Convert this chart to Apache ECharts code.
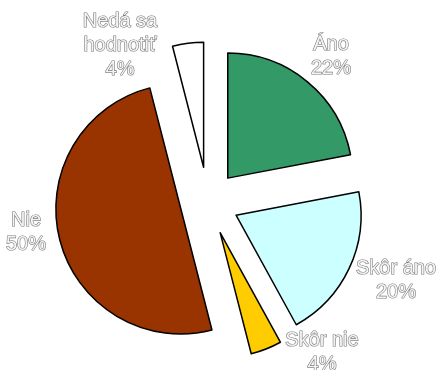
<!DOCTYPE html>
<html>
<head>
<meta charset="utf-8">
<script src="https://cdn.jsdelivr.net/npm/echarts@6/dist/echarts.min.js"></script>
<style>
  html, body { margin: 0; padding: 0; background: #ffffff; }
  #chart { width: 440px; height: 370px; }
</style>
</head>
<body>
<div id="chart"></div>
<script>
// Survey answers, clockwise from 12 o'clock
const categories = ['Áno', 'Skôr áno', 'Skôr nie', 'Nie', 'Nedá sa\nhodnotiť'];
const values = [22, 20, 4, 50, 4];
const colors = ['#339966', '#CCFFFF', '#FFCC00', '#993300', '#FFFFFF'];

// How far each slice is pulled out of the pie
const explode = [31, 31, 33, 28, 35];
// Where each slice's label sits (centre of the text block)
const labelSpots = [[331, 56], [396, 280], [322, 352], [26, 232], [120, 45]];

const pieCenter = [208, 202];
const total = values.reduce((a, b) => a + b, 0);

const chart = echarts.init(document.getElementById('chart'), null, { renderer: 'canvas' });

// One pie series per slice so every slice can have its own explode distance;
// each series carries the full data, with only its own slice painted.
const series = categories.map((_, k) => ({
  type: 'pie',
  center: pieCenter,
  radius: [0, 125],
  startAngle: 90,
  clockwise: true,
  animation: false,
  silent: true,
  selectedMode: 'multiple',
  selectedOffset: explode[k],
  emphasis: { disabled: true },
  label: { show: false },
  labelLine: { show: false },
  data: categories.map((name, i) => ({
    name: name,
    value: values[i],
    selected: i === k,
    itemStyle: i === k
      ? { color: colors[i], borderColor: '#000000', borderWidth: 1.5 }
      : { color: 'rgba(0,0,0,0)', borderWidth: 0 }
  }))
}));

// Slice captions: name and share, in outlined grey lettering
const captions = categories.map((name, i) => ({
  type: 'text',
  x: labelSpots[i][0],
  y: labelSpots[i][1],
  silent: true,
  z: 100,
  style: {
    text: name + '\n' + Math.round(values[i] / total * 100) + '%',
    align: 'center',
    verticalAlign: 'middle',
    font: '20px "Liberation Sans", Arial, sans-serif',
    lineHeight: 24,
    fill: '#f4f4f4',
    stroke: '#7a7a7a',
    lineWidth: 1.2
  }
}));

chart.setOption({
  backgroundColor: '#ffffff',
  series: series,
  graphic: { elements: captions }
});
</script>
</body>
</html>
